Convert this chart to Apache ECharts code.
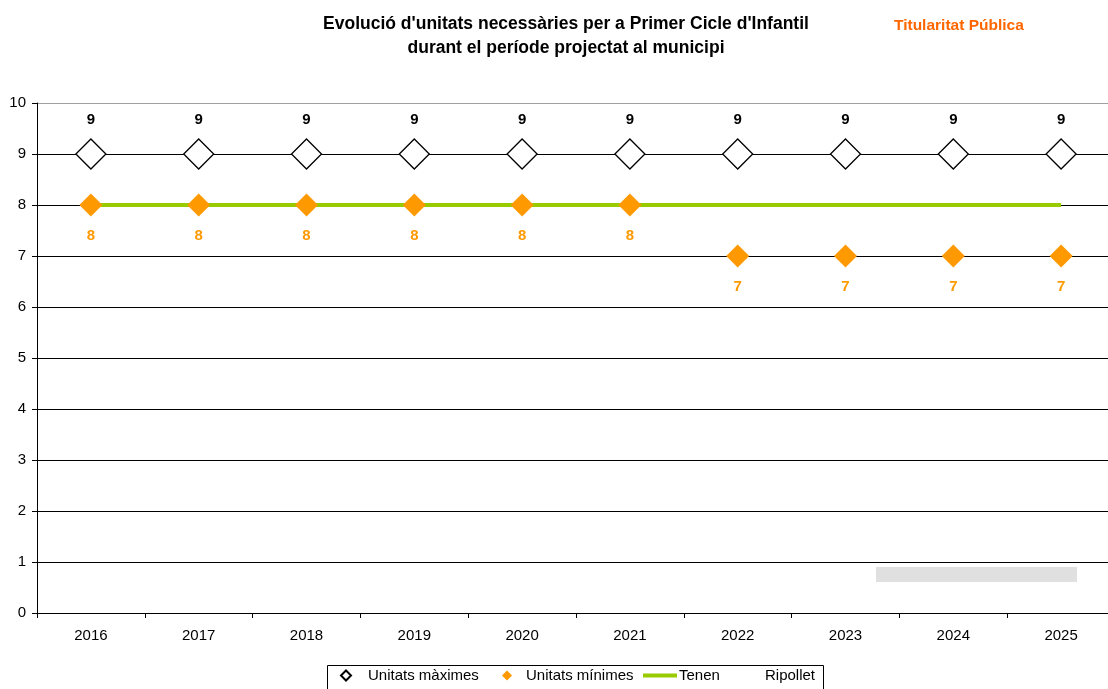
<!DOCTYPE html>
<html>
<head>
<meta charset="utf-8">
<script src="https://cdn.jsdelivr.net/npm/echarts@6/dist/echarts.min.js"></script>
<style>
  html, body { margin: 0; padding: 0; background: #fff; }
  #chart { width: 1108px; height: 689px; }
</style>
</head>
<body>
<div id="chart"></div>
<script>
var years = ['2016', '2017', '2018', '2019', '2020', '2021', '2022', '2023', '2024', '2025'];
var maximes = [9, 9, 9, 9, 9, 9, 9, 9, 9, 9];
var minimes = [8, 8, 8, 8, 8, 8, 7, 7, 7, 7];
var tenen = [8, 8, 8, 8, 8, 8, 8, 8, 8, 8];
var yTicks = [0, 1, 2, 3, 4, 5, 6, 7, 8, 9, 10];

var font = "'Liberation Sans', Arial, sans-serif";
var myChart = echarts.init(document.getElementById('chart'));

var legendText = { fontFamily: font, fontSize: 15, color: '#000' };
// the top gridline (10) is drawn grey in the original
var gridColors = yTicks.map(function (v, i) { return i === yTicks.length - 1 ? '#a0a0a0' : '#000'; });

option = {
    animation: false,
    title: [
        {
            text: "Evolució d'unitats necessàries per a Primer Cicle d'Infantil\ndurant el període projectat al municipi",
            left: 561,
            top: 7,
            textAlign: 'center',
            textStyle: { fontFamily: font, fontSize: 17.5, fontWeight: 'bold', color: '#000', lineHeight: 24 }
        },
        {
            text: 'Titularitat Pública',
            left: 889,
            top: 13,
            textStyle: { fontFamily: font, fontSize: 15.5, fontWeight: 'bold', color: '#ff6600' }
        }
    ],
    // plot runs a little past the right edge of the picture
    grid: { left: 37, width: 1078, top: 103, bottom: 76, outerBoundsMode: 'none' },
    legend: [
        {
            data: ['Unitats màximes'], left: 340, top: 668, itemWidth: 10, itemHeight: 10,
            itemGap: 0, textStyle: Object.assign({ padding: [0, 0, 0, 12] }, legendText), padding: 0
        },
        {
            data: ['Unitats mínimes'], left: 502, top: 668, itemWidth: 10, itemHeight: 10,
            itemGap: 0, textStyle: Object.assign({ padding: [0, 0, 0, 9] }, legendText), padding: 0
        },
        {
            data: [{ name: 'Tenen', icon: 'rect' }], left: 643, top: 668, itemWidth: 34, itemHeight: 4,
            itemGap: 0, textStyle: Object.assign({ padding: [0, 0, 0, -3] }, legendText), padding: 0
        },
        {
            data: [{ name: 'Ripollet', itemStyle: { opacity: 0 } }], left: 749, top: 668, itemWidth: 10, itemHeight: 4,
            itemGap: 0, textStyle: legendText, padding: 0
        }
    ],
    graphic: [
        { type: 'rect', left: 325, top: 663, shape: { width: 496, height: 32 }, style: { fill: 'none', stroke: '#000', lineWidth: 1 }, z: 10 },
        { type: 'rect', left: 876, top: 567, shape: { width: 201, height: 15 }, style: { fill: '#e0e0e0' } }
    ],
    xAxis: {
        type: 'category',
        data: years,
        boundaryGap: true,
        axisLine: { lineStyle: { color: '#000', width: 1 } },
        axisTick: { show: true, length: 5, lineStyle: { color: '#000' } },
        axisLabel: { fontFamily: font, fontSize: 15, color: '#000', margin: 15 },
        splitLine: { show: false }
    },
    yAxis: {
        type: 'value',
        min: yTicks[0],
        max: yTicks[yTicks.length - 1],
        interval: 1,
        axisLine: { show: true, lineStyle: { color: '#000', width: 1 } },
        axisTick: { show: true, length: 5, lineStyle: { color: '#000' } },
        axisLabel: { fontFamily: font, fontSize: 15, color: '#000', margin: 11 },
        splitLine: { show: true, lineStyle: { color: gridColors, width: 1 } }
    },
    series: [
        {
            name: 'Tenen',
            type: 'line',
            data: tenen,
            showSymbol: false,
            symbol: 'none',
            color: '#99cc00',
            lineStyle: { color: '#99cc00', width: 4 },
            z: 2
        },
        {
            name: 'Unitats màximes',
            type: 'scatter',
            data: maximes,
            symbol: 'diamond',
            symbolSize: 30,
            itemStyle: { color: '#fff', borderColor: '#000', borderWidth: 1.3, opacity: 1 },
            label: {
                show: true, position: 'top', distance: 11,
                fontFamily: font, fontSize: 15, fontWeight: 'bold', color: '#000'
            },
            z: 3
        },
        {
            name: 'Unitats mínimes',
            type: 'scatter',
            data: minimes,
            symbol: 'diamond',
            symbolSize: 23,
            itemStyle: { color: '#ff9900', opacity: 1 },
            label: {
                show: true, position: 'bottom', distance: 12,
                fontFamily: font, fontSize: 15, fontWeight: 'bold', color: '#ff9900'
            },
            z: 4
        },
        {
            name: 'Ripollet',
            type: 'line',
            data: [],
            symbol: 'none',
            lineStyle: { opacity: 0 }
        }
    ]
};
myChart.setOption(option);
</script>
</body>
</html>
